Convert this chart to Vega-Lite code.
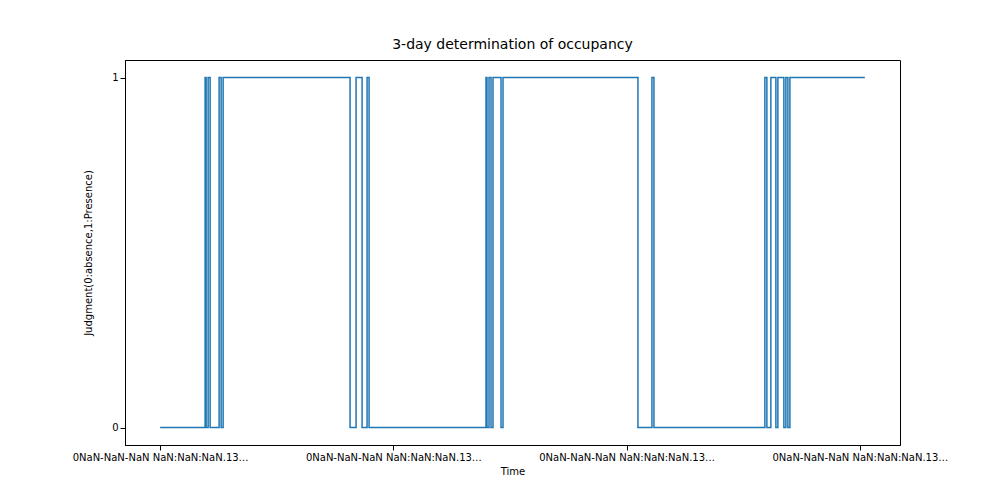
{"$schema":"https://vega.github.io/schema/vega-lite/v6.json","width":775,"height":385,"padding":{"left":125,"top":60,"right":100,"bottom":55},"autosize":"none","background":"white",
"title":{"text":"3-day determination of occupancy","font":"DejaVu Sans","fontSize":14,"fontWeight":"normal","color":"black","offset":8},
"data":{"values":[{"t":0,"v":0},{"t":144.6,"v":1},{"t":147.9,"v":0},{"t":154.3,"v":1},{"t":160.7,"v":0},{"t":189.6,"v":1},{"t":196.1,"v":0},{"t":202.5,"v":1},{"t":610.7,"v":0},{"t":630,"v":1},{"t":649.3,"v":0},{"t":665.4,"v":1},{"t":671.8,"v":0},{"t":1047.8,"v":1},{"t":1051,"v":0},{"t":1057.5,"v":1},{"t":1063.9,"v":0},{"t":1070.3,"v":1},{"t":1096.1,"v":0},{"t":1102.5,"v":1},{"t":1536.3,"v":0},{"t":1581.4,"v":1},{"t":1587.8,"v":0},{"t":1944.5,"v":1},{"t":1950.9,"v":0},{"t":1963.8,"v":1},{"t":1979.9,"v":0},{"t":1986.3,"v":1},{"t":2005.6,"v":0},{"t":2012,"v":1},{"t":2018.5,"v":0},{"t":2024.9,"v":1},{"t":2266,"v":1}]},
"mark":{"type":"line","interpolate":"step-after","color":"#1f77b4","strokeWidth":1.5},
"encoding":{
"x":{"field":"t","type":"quantitative","scale":{"domain":[-113,2379],"nice":false,"zero":false},"axis":{"values":[0,750,1500,2250],"title":"Time","grid":false,"labelExpr":"timeFormat(datetime(2018,1,19,13,18,52)+datum.value*60000,'%Y-%m-%d %H:%M:%S')+'.136820'","labelFont":"DejaVu Sans","labelFontSize":10,"titleFont":"DejaVu Sans","titleFontSize":10,"titleFontWeight":"normal","labelColor":"black","titleColor":"black","domainColor":"black","tickColor":"black","labelFlush":false,"labelOverlap":false,"titlePadding":4}},
"y":{"field":"v","type":"quantitative","scale":{"domain":[-0.05,1.05],"nice":false},"axis":{"values":[0,1],"format":"d","title":"Judgment(0:absence,1:Presence)","grid":false,"labelFont":"DejaVu Sans","labelFontSize":10,"titleFont":"DejaVu Sans","titleFontSize":10,"titleFontWeight":"normal","labelColor":"black","titleColor":"black","domainColor":"black","tickColor":"black","titlePadding":18}}},
"config":{"view":{"stroke":"black"}}}
